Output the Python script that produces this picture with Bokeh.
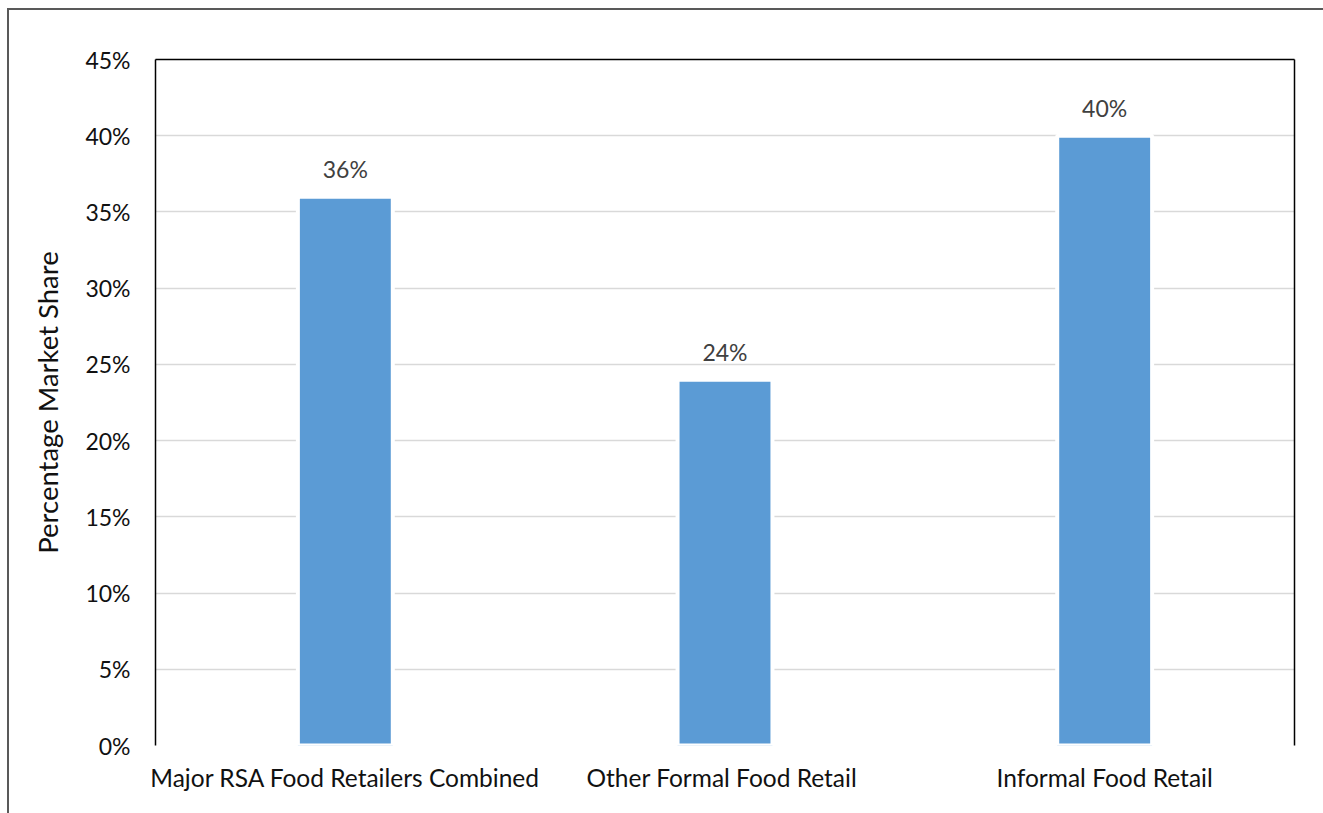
from bokeh.plotting import figure
from bokeh.layouts import column
from bokeh.models import (ColumnDataSource, LinearAxis, FixedTicker,
                          CustomJSTickFormatter, Range1d)
from bokeh.embed import file_html
from bokeh.resources import INLINE
from bokeh.core.properties import value

# Market share by food retail channel
categories = ["Major RSA Food Retailers Combined", "Other Formal Food  Retail", "Informal Food Retail"]
shares = [36, 24, 40]
labels = ["36%", "24%", "40%"]
y_ticks = [0, 5, 10, 15, 20, 25, 30, 35, 40, 45]
y_title = "Percentage Market Share"

FONT = "Lato"
BAR = "#5b9bd5"
GRID = "#d9d9d9"

src = ColumnDataSource(dict(cat=categories, share=shares, label=labels))

p = figure(x_range=categories, width=1314, height=803,
           output_backend="svg", toolbar_location=None,
           min_border_left=146, min_border_right=29,
           min_border_top=49, min_border_bottom=68)
p.y_range = Range1d(0, 45)
p.outline_line_color = None
p.background_fill_color = "white"
p.border_fill_color = "white"

p.vbar(x="cat", top="share", width=0.25, source=src,
       fill_color=BAR, line_color="white", line_width=4)

p.text(x="cat", y="share", text="label", source=src,
       text_align="center", text_baseline="alphabetic", y_offset=-28,
       text_font=value(FONT), text_font_size="23px", text_color="#404040")

# y axis
ya = p.yaxis[0]
ya.ticker = FixedTicker(ticks=y_ticks)
ya.formatter = CustomJSTickFormatter(code="return tick.toFixed(0) + '%';")
ya.axis_line_color = "black"
ya.axis_line_width = 1.5
ya.major_tick_line_color = None
ya.minor_tick_line_color = None
ya.major_label_standoff = 19
ya.major_label_text_font = FONT
ya.major_label_text_font_size = "23px"
ya.major_label_text_color = "#111111"
ya.axis_label = y_title
ya.axis_label_text_font = FONT
ya.axis_label_text_font_size = "27.5px"
ya.axis_label_text_font_style = "normal"
ya.axis_label_text_color = "#111111"
ya.axis_label_standoff = 18

# x axis
xa = p.xaxis[0]
xa.axis_line_color = None
xa.major_tick_line_color = None
xa.minor_tick_line_color = None
xa.major_label_standoff = 11
xa.major_label_text_font = FONT
xa.major_label_text_font_size = "24.5px"
xa.major_label_text_color = "#111111"

# plain black frame lines on top and right
for side in ("above", "right"):
    ax = LinearAxis(major_tick_line_color=None, minor_tick_line_color=None,
                    major_label_text_font_size="0px", axis_line_color="black",
                    axis_line_width=1.5, ticker=FixedTicker(ticks=[]))
    p.add_layout(ax, side)

p.xgrid.grid_line_color = None
p.ygrid.grid_line_color = GRID
p.ygrid.grid_line_width = 1.5
p.ygrid.ticker = FixedTicker(ticks=y_ticks)

# chart area border (runs off the right and bottom of the page)
page = column(p, styles={"margin-left": "7px", "margin-top": "8px",
                         "border-left": "2px solid #595959",
                         "border-top": "2px solid #595959"})

open("out.html", "w").write(file_html(page, INLINE))
